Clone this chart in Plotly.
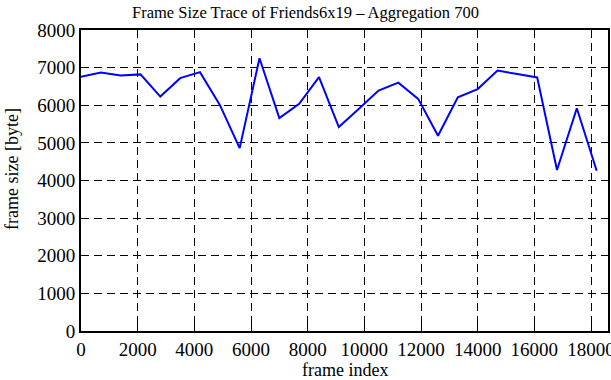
import plotly.graph_objects as go

frame_index = [0, 700, 1400, 2100, 2800, 3500, 4200, 4900, 5600, 6300, 7000, 7700,
               8400, 9100, 9800, 10500, 11200, 11900, 12600, 13300, 14000, 14700,
               15400, 16100, 16800, 17500, 18200]
frame_size = [6760, 6870, 6790, 6820, 6230, 6720, 6880, 6010, 4860, 7250, 5660, 6040,
              6750, 5420, 5900, 6390, 6600, 6170, 5190, 6210, 6430, 6920,
              6830, 6740, 4280, 5920, 4260]

x_ticks = [0, 2000, 4000, 6000, 8000, 10000, 12000, 14000, 16000, 18000]
y_ticks = [0, 1000, 2000, 3000, 4000, 5000, 6000, 7000, 8000]

FAM = "Liberation Serif"
tick_font = dict(family=FAM, size=19, color="black")
label_font = dict(family=FAM, size=18, color="black")

W, H = 611, 380
L, R, T, B = 81, 3, 30, 49
pw, ph = W - L - R, H - T - B

fig = go.Figure()
fig.add_trace(go.Scatter(x=frame_index, y=frame_size, mode="lines",
                         line=dict(color="#0000ff", width=2), showlegend=False))

axis_common = dict(showline=True, linecolor="black", linewidth=2, mirror="ticks",
                   ticks="inside", ticklen=7, tickcolor="black", tickwidth=1,
                   showgrid=True, gridcolor="black", griddash="8px,5px", gridwidth=1,
                   zeroline=False, tickfont=tick_font, automargin=False,
                   ticklabeloverflow="allow")

fig.update_layout(
    width=W, height=H,
    margin=dict(l=L, r=R, t=T, b=B, autoexpand=False),
    paper_bgcolor="white", plot_bgcolor="white",
    font=tick_font,
    title=dict(text="Frame Size Trace of Friends6x19 \u2013 Aggregation 700",
               x=0.5, xanchor="center", y=1 - 12 / H, yanchor="middle",
               font=dict(family=FAM, size=16.5, color="black")),
    xaxis=dict(range=[0, 18600], tickvals=x_ticks, ticktext=[str(v) for v in x_ticks],
               **axis_common),
    yaxis=dict(range=[0, 8000], tickvals=y_ticks, ticktext=[str(v) for v in y_ticks],
               **axis_common),
    annotations=[
        dict(text="frame index", xref="paper", yref="paper", x=0.5,
             y=(331 - 370) / ph, xanchor="center", yanchor="middle",
             showarrow=False, font=label_font),
        dict(text="frame size [byte]", xref="paper", yref="paper",
             x=(12 - L) / pw, y=(331 - 169) / ph, xanchor="center", yanchor="middle",
             textangle=-90, showarrow=False, font=label_font),
    ],
)

fig.write_html("out.html", config={"displayModeBar": False},
               post_script="document.body.style.margin='0';document.body.style.overflow='hidden';")
